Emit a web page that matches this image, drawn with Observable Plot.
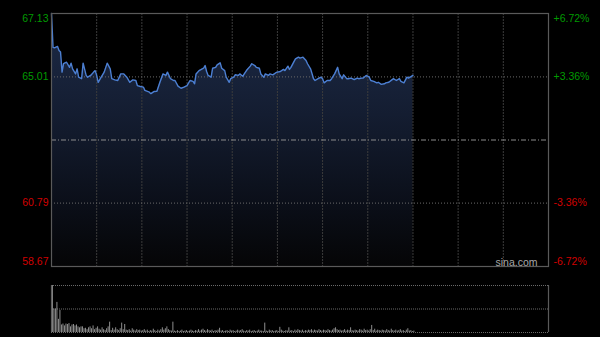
<!DOCTYPE html>
<html><head><meta charset="utf-8">
<script src="https://cdn.jsdelivr.net/npm/d3@7"></script>
<script src="https://cdn.jsdelivr.net/npm/@observablehq/plot@0.6"></script>
<style>
html,body{margin:0;padding:0;background:#000;width:600px;height:337px;overflow:hidden}
#wrap{position:relative;width:600px;height:337px;background:#000}
#main,#vol{position:absolute;left:0}
#main{top:0}
#vol{top:270px}
svg{display:block}
</style></head><body>
<div id="wrap"><div id="main"></div><div id="vol"></div></div>
<script>
// ---- data ----
const prevClose = 62.90;
const yMin = 58.67, yMax = 67.13;
const sessionMinutes = 330;
const gridMinutes = [30, 60, 90, 120, 150, 180, 210, 240, 270, 300];
const upTicks = [67.13, 65.01];
const downTicks = [60.79, 58.67];
const upPct = ["+6.72%", "+3.36%"];
const downPct = ["-3.36%", "-6.72%"];

const minutes = [0,1,2,4,5,6,7,8,10,12,13,14,16,17,18,20,21,23,24,26,28,29,30,31,33,35,37,39,40,42,44,46,48,50,52,54,56,57,59,61,62,65,66,68,70,72,74,76,77,79,81,82,
84,86,88,90,92,94,95,96,98,101,102,103,104,106,107,109,110,112,113,115,116,118,119,121,122,124,125,127,128,130,132,133,135,136,138,139,141,142,144,145,147,149,150,152,154,155,157,158,159,161,162,
164,165,167,169,170,172,174,175,177,179,180,181,183,185,186,188,190,191,193,194,196,197,199,201,203,204,206,207,209,211,212,214,216,217,219,221,222,224,226,227,229,231,232,234,236,237,239,240];
const prices = [67.13,66.00,65.98,66.03,65.89,65.84,65.17,65.45,65.50,65.33,65.47,65.28,65.11,65.28,65.00,64.95,65.47,65.06,65.00,65.06,65.17,65.22,65.06,64.83,65.00,65.17,65.47,65.28,64.95,64.91,64.89,65.11,65.11,65.00,64.83,64.91,64.89,64.72,64.69,64.67,64.56,64.50,64.45,64.52,64.53,64.83,65.11,65.06,65.17,64.95,64.89,64.89,
64.70,64.63,64.67,64.72,64.89,64.86,64.78,65.11,65.22,65.30,65.39,65.19,65.06,65.00,65.30,65.33,65.41,65.48,65.30,65.22,65.00,64.83,64.95,65.00,65.08,65.06,65.11,65.03,65.11,65.26,65.37,65.45,65.39,65.33,65.30,65.11,65.00,65.11,65.06,65.11,65.08,65.15,65.17,65.19,65.26,65.22,65.37,65.26,65.33,65.52,65.61,
65.67,65.64,65.67,65.56,65.45,65.28,64.95,64.89,64.95,65.00,64.95,64.81,64.89,64.89,64.95,65.11,65.33,65.11,64.95,65.08,64.95,64.95,64.97,64.92,64.97,64.95,64.97,64.97,65.06,65.00,64.89,64.86,64.81,64.83,64.76,64.78,64.81,64.83,64.91,64.95,64.89,64.95,64.86,64.81,65.00,64.97,65.03,65.06];

const volumes = [
100,50,50,64,28,47,16,18,14,18,
17,19,12,16,17,14,16,12,10,12,
12,8,9,6,10,12,8,14,6,9,
12,7,5,10,6,4,8,12,22,4,
9,5,10,6,4,8,20,6,17,5,
4,6,3,8,5,3,6,4,5,3,
4,6,3,5,2,4,3,7,4,2,
5,3,6,10,5,8,12,6,4,3,
22,3,2,4,2,3,5,2,3,4,
2,3,5,3,2,4,3,6,3,5,
7,4,3,6,4,3,5,2,4,3,
5,9,3,4,2,3,4,2,5,3,
4,2,3,5,3,4,6,3,2,4,
3,5,2,3,4,2,3,5,3,3,
2,20,3,2,5,3,4,2,3,4,
2,11,5,3,2,4,3,10,3,4,
2,5,3,6,4,3,5,2,4,3,
5,4,6,3,5,4,3,6,4,3,
5,4,3,6,4,3,5,8,10,6,
4,5,3,4,6,3,5,4,10,4,
3,5,4,3,6,5,3,7,4,5,
3,6,15,4,7,3,5,4,3,5,
4,3,6,4,3,7,4,3,5,3,
4,6,3,4,2,5,8,3,4,2,3];

// ---- build ----
const priceData = minutes.map((t, i) => ({t, p: prices[i]}));
const volData = volumes.map((v, i) => ({t: i, v}));
const FONT = "'Liberation Sans', Arial, sans-serif";
const GREEN = "#009a00", RED = "#d10000";

const defs = () => {
  const d = d3.create("svg:defs");
  const g = d.append("linearGradient").attr("id", "areaGrad")
    .attr("gradientUnits", "userSpaceOnUse").attr("x1", 0).attr("x2", 0).attr("y1", 13).attr("y2", 266);
  g.append("stop").attr("offset", "0%").attr("stop-color", "#1d2b48");
  g.append("stop").attr("offset", "40%").attr("stop-color", "#141d31");
  g.append("stop").attr("offset", "75%").attr("stop-color", "#0b0f19");
  g.append("stop").attr("offset", "100%").attr("stop-color", "#050506");
  return d.node();
};

function label(values, texts, side, color, anchor, dy) {
  return Plot.text(values, {
    y: d => d,
    text: (d, i) => texts ? texts[i] : d.toFixed(2),
    frameAnchor: side,
    textAnchor: side === "left" ? "end" : "start",
    lineAnchor: anchor,
    dx: side === "left" ? -3 : 5,
    dy: dy || 0,
    fill: color,
    fontSize: 10.5,
    fontFamily: FONT
  });
}

const main = Plot.plot({
  width: 600, height: 270,
  marginLeft: 51, marginRight: 52, marginTop: 13, marginBottom: 4,
  style: {background: "transparent", fontFamily: FONT, overflow: "visible"},
  x: {domain: [0, sessionMinutes], axis: null},
  y: {domain: [yMin, yMax], axis: null},
  marks: [
    defs,
    Plot.areaY(priceData, {x: "t", y1: yMin, y2: "p", fill: "url(#areaGrad)", curve: "linear"}),
    Plot.ruleX(gridMinutes, {stroke: "#3c3c3c", strokeDasharray: "2,1", strokeWidth: 1}),
    Plot.ruleY([upTicks[1], downTicks[0]], {stroke: "#6a6a6a", strokeDasharray: "1,2", strokeWidth: 1}),
    Plot.ruleY([prevClose], {stroke: "#8c8c8c", strokeDasharray: "5,2,1,2", strokeWidth: 1}),
    Plot.lineY(priceData, {x: "t", y: "p", stroke: "#4c7fd2", strokeWidth: 1.4, curve: "linear"}),
    Plot.frame({stroke: "#5a5a5a", strokeWidth: 1.2}),
    label([upTicks[0]], null, "left", GREEN, "top", 1),
    label([upTicks[1]], null, "left", GREEN, "middle"),
    label([downTicks[0]], null, "left", RED, "middle"),
    label([downTicks[1]], null, "left", RED, "bottom", -2),
    label([upTicks[0]], [upPct[0]], "right", GREEN, "top", 1),
    label([upTicks[1]], [upPct[1]], "right", GREEN, "middle"),
    label([downTicks[0]], [downPct[0]], "right", RED, "middle"),
    label([downTicks[1]], [downPct[1]], "right", RED, "bottom", -2),
    Plot.text(["sina.com"], {frameAnchor: "bottom-right", textAnchor: "end", lineAnchor: "bottom", dx: -11, dy: -1, fill: "#a8a8a8", fontSize: 10.5, fontFamily: FONT})
  ]
});
document.getElementById("main").appendChild(main);

const vol = Plot.plot({
  width: 600, height: 67,
  marginLeft: 51, marginRight: 52, marginTop: 15, marginBottom: 5,
  style: {background: "transparent", overflow: "visible"},
  x: {domain: [0, sessionMinutes], axis: null},
  y: {domain: [0, 100], axis: null},
  marks: [
    Plot.ruleY([0, 50, 100], {stroke: "#6a6a6a", strokeDasharray: "1,1", strokeWidth: 1}),
    Plot.ruleX([0, sessionMinutes], {stroke: "#5a5a5a", strokeWidth: 1.2}),
    Plot.ruleX(volData, {x: d => d.t + 0.6, y1: 0, y2: "v", stroke: "#8e8e8e", strokeWidth: 1})
  ]
});
document.getElementById("vol").appendChild(vol);
</script>
</body></html>
